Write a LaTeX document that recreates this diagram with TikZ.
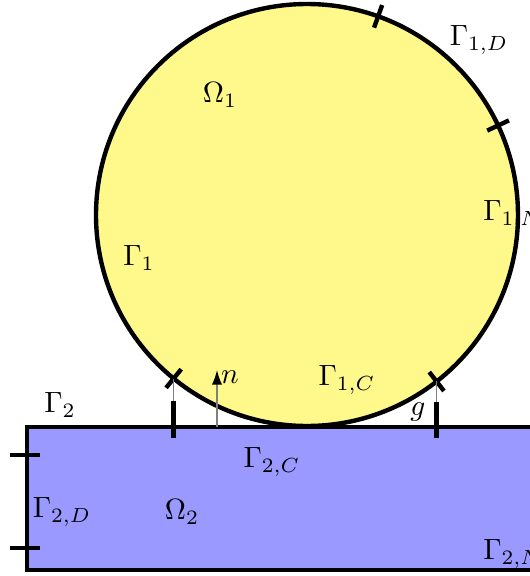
\documentclass[tikz,border=0pt]{standalone}
\usepackage{amsmath,amssymb}
\usepackage{tikz}
\usetikzlibrary{arrows.meta,calc}
\usepackage{xcolor}

\begin{document}
\begin{tikzpicture}
  \begin{scope}[x=0.012cm, y=0.012cm]
    \useasboundingbox (0,0) rectangle (530,576);
    \clip (0,0) rectangle (530,576);
    \tikzset{
      border/.style={line width=1.5pt},
      tickmark/.style={line width=1.5pt},
      guide/.style={gray, line width=0.5pt}
    }

    % Bodies
    \coordinate (c) at (307,361);
    \filldraw[fill=blue!40, border] (27,6) rectangle (560,149);
    \filldraw[fill=yellow!45, border] (c) circle (211);

    % Ticks on the circle
    \foreach \a in {70.3, 25.1, 230.8, 307.9} {
      \draw[tickmark] ($(c)+(\a:199)$) -- ($(c)+(\a:223)$);
    }
    \coordinate (p1) at ($(c)+(230.8:211)$);
    \coordinate (p2) at ($(c)+(307.9:211)$);

    % Gap lines down to the lower body
    \draw[guide] (p1) -- (p1 |- 0,149);
    \draw[guide] (p2) -- (p2 |- 0,149);
    \draw[tickmark] (p1 |- 0,175) -- (p1 |- 0,138);
    \draw[tickmark] (p2 |- 0,174) -- (p2 |- 0,138);

    % Ticks on the left side
    \draw[tickmark] (10,121) -- (40,121);
    \draw[tickmark] (10,28) -- (40,28);

    % Normal
    \coordinate (nfoot) at (217,149);
    \coordinate (ntip) at (217,206);
    \draw[guide, -{Latex[black,length=5pt,width=3.5pt]}] (nfoot) -- (ntip);

    % Labels
    \node (g1d) at (479,536) {$\Gamma_{1,D}$};
    \node (om1) at (220,481) {$\Omega_1$};
    \node[anchor=west] (g1n) at (473,361) {$\Gamma_{1,N}$};
    \node (g1) at (139,318) {$\Gamma_1$};
    \node (n) at (230,199) {$n$};
    \node (g1c) at (347,196) {$\Gamma_{1,C}$};
    \node (g) at (418,164) {$g$};
    \node (g2) at (60,171) {$\Gamma_2$};
    \node (g2c) at (272,114) {$\Gamma_{2,C}$};
    \node (g2d) at (62,64) {$\Gamma_{2,D}$};
    \node (om2) at (182,64) {$\Omega_2$};
    \node[anchor=west] (g2n) at (473,22) {$\Gamma_{2,N}$};
  \end{scope}
\end{tikzpicture}
\end{document}
